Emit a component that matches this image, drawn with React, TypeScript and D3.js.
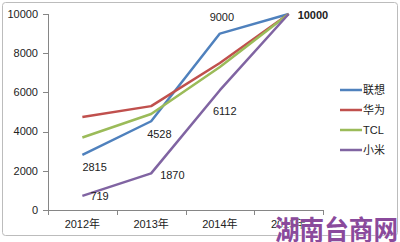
import React from "react";
import * as d3 from "d3";

const categories = ["2012年", "2013年", "2014年", "2015年"];
const seriesNames = ["联想", "华为", "TCL", "小米"];
const lenovo = [2815, 4528, 9000, 10000];
const huawei = [4750, 5300, 7500, 10000];
const tcl = [3700, 4900, 7300, 10000];
const xiaomi = [719, 1870, 6112, 10000];
const yTicks = [0, 2000, 4000, 6000, 8000, 10000];
const colors = ["#4F81BD", "#C0504D", "#9BBB59", "#8064A2"];

// labelled points: [seriesIndex, categoryIndex]
const labelled: [number, number][] = [
  [0, 0], [0, 1], [0, 2], [0, 3], [3, 0], [3, 1], [3, 2],
];
// label placement offsets (dx, dy, anchor, bold)
const labelPlacement: [number, number, string, boolean][] = [
  [0, 12, "start", false],
  [-4, 13, "start", false],
  [2, -16, "middle", false],
  [9, 1, "start", true],
  [8, 0, "start", false],
  [9, 2, "start", false],
  [-7, 21, "start", false],
];

export default function App() {
  const W = 400, H = 242;
  const left = 48, right = 323, top = 14, bottom = 210;
  const series = [lenovo, huawei, tcl, xiaomi];
  const x = d3.scaleBand<string>().domain(categories).range([left, right]);
  const y = d3.scaleLinear().domain([0, 10000]).range([bottom, top]);
  const cx = (i: number) => (x(categories[i]) as number) + x.bandwidth() / 2;
  const line = d3.line<number>().x((_, i) => cx(i)).y((d) => y(d));
  const font = "'Liberation Sans', 'Noto Sans CJK SC', sans-serif";
  const axisColor = "#868686";
  const boundaries = [...categories.map((c) => x(c) as number), right];
  return (
    <svg width={W} height={H} style={{ position: "absolute", left: 0, top: 0, background: "#fff" }} fontFamily={font}>
      <rect x={2.5} y={2.5} width={395} height={233} rx={3} fill="#fff" stroke="#bcbcbc" />
      {/* y axis */}
      <line x1={left + 0.5} x2={left + 0.5} y1={top} y2={bottom} stroke={axisColor} />
      {yTicks.map((t) => (
        <g key={t}>
          <line x1={left - 5} x2={left} y1={Math.round(y(t)) + 0.5} y2={Math.round(y(t)) + 0.5} stroke={axisColor} />
          <text x={38} y={y(t)} dy="0.35em" textAnchor="end" fontSize={11} fill="#222">{t}</text>
        </g>
      ))}
      {/* x axis */}
      <line x1={left} x2={right} y1={bottom + 0.5} y2={bottom + 0.5} stroke={axisColor} />
      {boundaries.map((b, i) => (
        <line key={i} x1={Math.round(b) + 0.5} x2={Math.round(b) + 0.5} y1={bottom} y2={bottom + 5} stroke={axisColor} />
      ))}
      {categories.map((c, i) => (
        <text key={c} x={cx(i)} y={228} textAnchor="middle" fontSize={11} fill="#222">{c}</text>
      ))}
      {/* lines */}
      {series.map((s, si) => (
        <path key={si} d={line(s) as string} fill="none" stroke={colors[si]} strokeWidth={2.5} strokeLinejoin="round" />
      ))}
      {/* data labels */}
      {labelled.map(([si, ci], k) => {
        const [dx, dy, anchor, bold] = labelPlacement[k];
        return (
          <text key={k} x={cx(ci) + dx} y={y(series[si][ci]) + dy} dy="0.35em" textAnchor={anchor as any}
            fontSize={11} fill="#222" fontWeight={bold ? "bold" : "normal"}>
            {series[si][ci]}
          </text>
        );
      })}
      {/* legend */}
      {seriesNames.map((n, i) => (
        <g key={n} transform={`translate(340, ${90 + i * 20})`}>
          <line x1={0} x2={22} y1={0} y2={0} stroke={colors[i]} strokeWidth={2.5} />
          <text x={23} y={0} dy="0.35em" fontSize={11} fill="#222">{n}</text>
        </g>
      ))}
      {/* watermark */}
      <text x={275} y={240} fontSize={27} fontWeight="bold" textLength={123} lengthAdjust="spacingAndGlyphs"
        fontFamily="'Noto Sans CJK SC', sans-serif" fill="#8a4a9c" stroke="#fff" strokeWidth={0.6} paintOrder="stroke">
        湖南台商网
      </text>
    </svg>
  );
}
